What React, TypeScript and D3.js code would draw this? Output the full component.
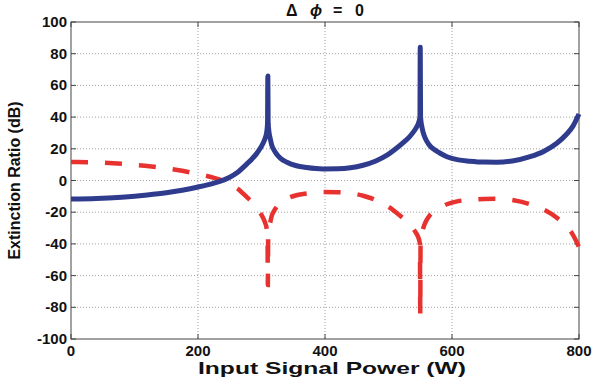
import React from "react";
import * as d3 from "d3";

const WIDTH = 595;
const HEIGHT = 379;
const MARGIN = { top: 22, right: 16, bottom: 40, left: 71 };

// input power samples (W)
const powerW = [
  0, 40, 80, 120, 150, 175, 200, 224, 240, 250, 262, 277, 285, 292, 298, 303,
  306, 308, 309.5, 310, 310.5, 312, 314, 316, 320, 324, 330, 340, 355, 371,
  397, 420, 440, 460, 480, 497, 513, 525, 533, 539, 544, 547, 549.5, 550,
  550.5, 553, 556, 560, 565, 572, 580, 592, 610, 628, 650, 670, 695, 723, 745,
  765, 780, 790, 800,
];
// solid blue curve (dB)
const erBlue = [
  -11.7, -11.4, -10.5, -9.1, -7.7, -6.1, -4.1, -1.8, 0.2, 2, 5, 10.5, 13.6,
  16.8, 20.3, 24, 27, 30, 36, 66, 36, 30, 26, 22.5, 19, 16.5, 14, 11.5, 9.3,
  8.2, 7.3, 7.4, 8, 9.6, 12.3, 15.8, 20.5, 24.5, 27.5, 30.5, 33.5, 36, 40, 84,
  40, 33, 28.5, 25, 22, 19.5, 17.5, 15, 13, 12.2, 11.6, 11.5, 12.3, 15, 18.5,
  23.5, 29, 34, 42,
];
// dashed red curve (dB)
const erRed = [
  11.7, 11.4, 10.5, 9.1, 7.7, 6.1, 4.1, 1.8, -0.2, -2, -5, -10.5, -13.6,
  -16.8, -20.3, -24, -27, -30, -36, -66, -36, -30, -26, -22.5, -19, -16.5,
  -14, -11.5, -9.3, -8.2, -7.3, -7.4, -8, -9.6, -12.3, -15.8, -20.5, -24.5,
  -27.5, -30.5, -33.5, -36, -40, -84, -40, -33, -28.5, -25, -22, -19.5,
  -17.5, -15, -13, -12.2, -11.6, -11.5, -12.3, -15, -18.5, -23.5, -29, -34,
  -42,
];

const xTicks = [0, 200, 400, 600, 800];
const yTicks = [-100, -80, -60, -40, -20, 0, 20, 40, 60, 80, 100];

const FONT = "'Liberation Sans', Arial, sans-serif";

export default function App() {
  const x = d3
    .scaleLinear()
    .domain([0, 800])
    .range([MARGIN.left, WIDTH - MARGIN.right]);
  const y = d3
    .scaleLinear()
    .domain([-100, 100])
    .range([HEIGHT - MARGIN.bottom, MARGIN.top]);

  const line = d3
    .line<number>()
    .x((_, i) => x(powerW[i]))
    .y((d) => y(d))
    .curve(d3.curveMonotoneX);

  const [x0, x1] = x.range();
  const [y0, y1] = y.range();
  const tick = 5;

  return (
    <svg
      width={WIDTH}
      height={HEIGHT}
      style={{ position: "absolute", left: 0, top: 0, background: "#fff" }}
    >
      <defs>
        <clipPath id="plot">
          <rect x={x0} y={y1 - 5} width={x1 - x0 + 5} height={y0 - y1 + 5} />
        </clipPath>
      </defs>

      {/* grid */}
      {xTicks.slice(1, -1).map((t) => (
        <line
          key={"gx" + t}
          x1={x(t)}
          x2={x(t)}
          y1={y1}
          y2={y0}
          stroke="#a0a0a0"
          strokeWidth={1}
          strokeDasharray="1,2"
        />
      ))}
      {yTicks.slice(1, -1).map((t) => (
        <line
          key={"gy" + t}
          x1={x0}
          x2={x1}
          y1={y(t)}
          y2={y(t)}
          stroke="#a0a0a0"
          strokeWidth={1}
          strokeDasharray="1,2"
        />
      ))}

      {/* box + ticks */}
      <rect x={x0} y={y1} width={x1 - x0} height={y0 - y1} fill="none" stroke="#444" strokeWidth={1} />
      {xTicks.map((t) => (
        <g key={"tx" + t}>
          <line x1={x(t)} x2={x(t)} y1={y0} y2={y0 - tick} stroke="#444" />
          <line x1={x(t)} x2={x(t)} y1={y1} y2={y1 + tick} stroke="#444" />
          <text
            x={x(t)}
            y={y0 + 17}
            textAnchor="middle"
            fontFamily={FONT}
            fontWeight="bold"
            fontSize={15}
            fill="#111"
          >
            {t}
          </text>
        </g>
      ))}
      {yTicks.map((t) => (
        <g key={"ty" + t}>
          <line x1={x0} x2={x0 + tick} y1={y(t)} y2={y(t)} stroke="#444" />
          <line x1={x1} x2={x1 - tick} y1={y(t)} y2={y(t)} stroke="#444" />
          <text
            x={x0 - 4}
            y={y(t) + 5}
            textAnchor="end"
            fontFamily={FONT}
            fontWeight="bold"
            fontSize={15}
            fill="#111"
          >
            {t}
          </text>
        </g>
      ))}

      {/* curves */}
      <g clipPath="url(#plot)">
        <path
          d={line(erRed) ?? ""}
          fill="none"
          stroke="#e8322f"
          strokeWidth={4.5}
          strokeDasharray="17,17"
        />
        <path
          d={line(erBlue) ?? ""}
          fill="none"
          stroke="#2f3c8e"
          strokeWidth={5}
          strokeLinejoin="round"
        />
      </g>

      {/* title */}
      <text fontFamily={FONT} fontWeight="bold" fontSize={16} fill="#111" y={16}>
        <tspan x={286}>Δ</tspan>
        <tspan x={310} fontStyle="italic">ϕ</tspan>
        <tspan x={333}>=</tspan>
        <tspan x={355}>0</tspan>
      </text>

      {/* axis labels */}
      <text
        x={332}
        y={374}
        textAnchor="middle"
        fontFamily={FONT}
        fontWeight="bold"
        fontSize={17}
        textLength={268}
        lengthAdjust="spacingAndGlyphs"
        fill="#111"
      >
        Input Signal Power (W)
      </text>
      <text
        transform={`translate(20,${(y0 + y1) / 2}) rotate(-90)`}
        textAnchor="middle"
        fontFamily={FONT}
        fontWeight="bold"
        fontSize={16}
        fill="#111"
      >
        Extinction Ratio (dB)
      </text>
    </svg>
  );
}
